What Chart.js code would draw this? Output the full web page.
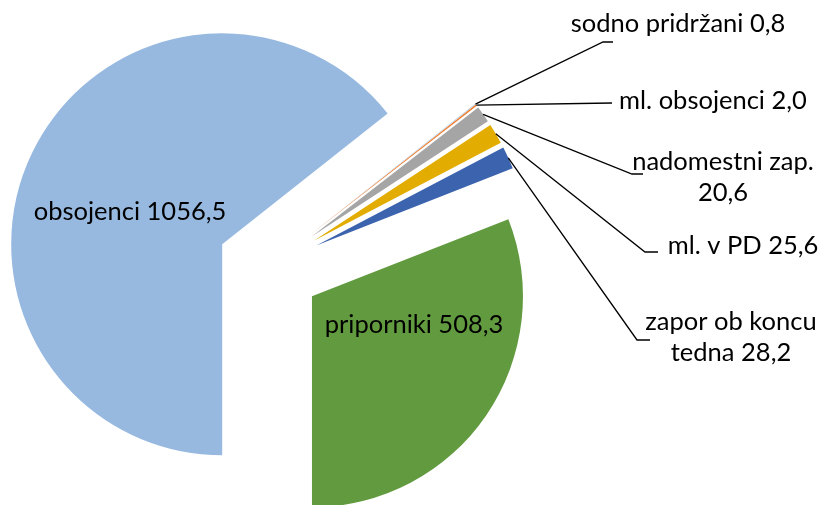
<!DOCTYPE html>
<html lang="sl">
<head>
  <meta charset="UTF-8" />
  <title>Pie</title>
  <script src="https://cdn.jsdelivr.net/npm/chart.js"></script>
  <style>
    html, body { margin: 0; padding: 0; background: #fff; }
    #wrap { width: 821px; height: 505px; }
  </style>
</head>
<body>
  <div id="wrap"><canvas id="pie" width="821" height="505"></canvas></div>
  <script>
    // data, clockwise from 6 o'clock
    const labels = ['obsojenci', 'sodno pridržani', 'ml. obsojenci', 'nadomestni zap.', 'ml. v PD', 'zapor ob koncu tedna', 'priporniki'];
    const values = [1056.5, 0.8, 2.0, 20.6, 25.6, 28.2, 508.3];
    const colors = ['#97b9e0', '#9dc3e6', '#ed7d31', '#a5a5a5', '#e2ac00', '#3c64ae', '#629b3f'];

    const fmt = v => v.toFixed(1).replace('.', ',');

    // label text lines and where they sit; elbow = end of leader line
    const labelPos = [
      { lines: ['obsojenci ' + fmt(values[0])], x: 130, y: 212 },
      { lines: ['sodno pridržani ' + fmt(values[1])], x: 678, y: 24, elbow: [[603, 42], [613, 42]] },
      { lines: ['ml. obsojenci ' + fmt(values[2])], x: 713, y: 101, elbow: [[612, 103]] },
      { lines: ['nadomestni zap.', fmt(values[3])], x: 723, y: 162, elbow: [[632, 174], [643, 174]] },
      { lines: ['ml. v PD ' + fmt(values[4])], x: 743, y: 246, elbow: [[645, 252], [658, 252]] },
      { lines: ['zapor ob koncu', 'tedna ' + fmt(values[5])], x: 731, y: 322, elbow: [[637, 340], [650, 340]] },
      { lines: ['priporniki ' + fmt(values[6])], x: 414, y: 325 }
    ];

    const FONT = '25.5px Lato';
    const EXPLODE = 52; // every slice pulled out by this many px

    // chart.js' own offset also grows the radius, so move the arcs by hand
    const explodePlugin = {
      id: 'explode',
      beforeDatasetsDraw(chart) {
        const ca = chart.chartArea;
        const cx = (ca.left + ca.right) / 2, cy = (ca.top + ca.bottom) / 2;
        chart.getDatasetMeta(0).data.forEach(a => {
          const mid = (a.startAngle + a.endAngle) / 2;
          a.x = cx + Math.cos(mid) * EXPLODE;
          a.y = cy + Math.sin(mid) * EXPLODE;
        });
      }
    };

    const labelPlugin = {
      id: 'pieLabels',
      afterDatasetsDraw(chart) {
        const ctx = chart.ctx;
        const arcs = chart.getDatasetMeta(0).data;
        ctx.save();
        ctx.font = FONT;
        ctx.fillStyle = '#000';
        ctx.strokeStyle = '#000';
        ctx.lineWidth = 1.3;
        ctx.textAlign = 'center';
        ctx.textBaseline = 'middle';
        labelPos.forEach((lp, i) => {
          if (lp.elbow) {
            const a = arcs[i];
            const mid = (a.startAngle + a.endAngle) / 2;
            const r = a.outerRadius;
            ctx.beginPath();
            ctx.moveTo(a.x + Math.cos(mid) * r, a.y + Math.sin(mid) * r);
            lp.elbow.forEach(pt => ctx.lineTo(pt[0], pt[1]));
            ctx.stroke();
          }
          lp.lines.forEach((t, k) => ctx.fillText(t, lp.x, lp.y + k * 31));
        });
        ctx.restore();
      }
    };

    new Chart(document.getElementById('pie'), {
      type: 'pie',
      data: {
        labels,
        datasets: [{
          data: values,
          backgroundColor: colors,
          borderWidth: 0,
          clip: false
        }]
      },
      options: {
        responsive: false,
        animation: false,
        rotation: 180,
        radius: 211,
        layout: { padding: { left: 0, right: 283, top: 29, bottom: 0 } },
        plugins: { legend: { display: false }, tooltip: { enabled: false } }
      },
      plugins: [explodePlugin, labelPlugin]
    });
  </script>
</body>
</html>
